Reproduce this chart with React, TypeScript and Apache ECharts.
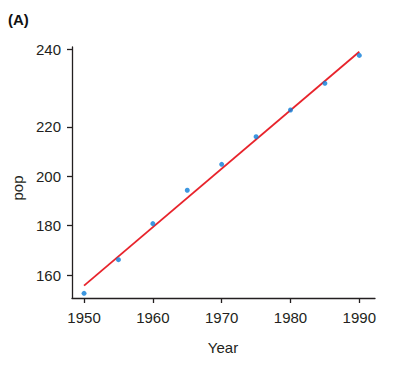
import React, { useEffect, useRef } from "react";
import * as echarts from "echarts";

const years = [1950, 1955, 1960, 1965, 1970, 1975, 1980, 1985, 1990];
const pop = [152.6, 166.2, 180.8, 194.3, 204.8, 216.0, 226.8, 237.6, 248.9];
const fitYears = [1950, 1990];
const fitPop = [155.7, 250.4];
const xTicks = [1950, 1960, 1970, 1980, 1990];
// tick positions on the y axis (the top tick, labelled "240", sits where the source drew it)
const yTickValues = [160, 180, 200, 220, 251.2];
const yTickLabels = ["160", "180", "200", "220", "240"];

const FONT = "'Liberation Sans', Arial, Helvetica, sans-serif";
const TXT = "#231f20";

export default function App() {
  const ref = useRef<HTMLDivElement>(null);
  useEffect(() => {
    if (!ref.current) return;
    const chart = echarts.init(ref.current, undefined, { renderer: "svg" });
    const labelMap: Record<string, string> = {};
    yTickValues.forEach((v, i) => (labelMap[String(v)] = yTickLabels[i]));
    chart.setOption({
      animation: false,
      backgroundColor: "#ffffff",
      grid: { left: 72, right: 39, top: 47, bottom: 69, containLabel: false },
      xAxis: {
        type: "value",
        min: 1948.25,
        max: 1992.28,
        axisLine: { show: true, onZero: false, lineStyle: { color: TXT, width: 1.3 } },
        axisTick: { show: true, length: 5, customValues: xTicks, lineStyle: { color: TXT, width: 1.3 } },
        axisLabel: {
          customValues: xTicks,
          margin: 12,
          color: TXT,
          fontFamily: FONT,
          fontSize: 15,
          formatter: (v: number) => String(Math.round(v)),
        },
        splitLine: { show: false },
      },
      yAxis: {
        type: "value",
        min: 150.7,
        max: 252.3,
        axisLine: { show: true, onZero: false, lineStyle: { color: TXT, width: 1.3 } },
        axisTick: { show: true, length: 5, customValues: yTickValues, lineStyle: { color: TXT, width: 1.3 } },
        axisLabel: {
          customValues: yTickValues,
          margin: 11,
          color: TXT,
          fontFamily: FONT,
          fontSize: 15,
          formatter: (v: number) => labelMap[String(v)] ?? String(v),
        },
        splitLine: { show: false },
      },
      series: [
        {
          type: "line",
          data: fitYears.map((y, i) => [y, fitPop[i]]),
          showSymbol: false,
          symbol: "none",
          lineStyle: { color: "#e8232b", width: 1.8 },
          z: 2,
        },
        {
          type: "scatter",
          data: years.map((y, i) => [y, pop[i]]),
          symbolSize: 5,
          itemStyle: { color: "#0d7dd8" },
          z: 3,
        },
      ],
      graphic: [
        {
          type: "text",
          left: 8,
          top: 12,
          style: { text: "(A)", font: `bold 15px ${FONT}`, fill: "#111" },
        },
        {
          type: "text",
          x: 17,
          y: 188,
          rotation: Math.PI / 2,
          style: {
            text: "pop",
            font: `15px ${FONT}`,
            fill: TXT,
            align: "center",
            verticalAlign: "middle",
          },
        },
        {
          type: "text",
          x: 223,
          y: 347,
          style: {
            text: "Year",
            font: `15px ${FONT}`,
            fill: TXT,
            align: "center",
            verticalAlign: "middle",
          },
        },
      ],
    });
    return () => chart.dispose();
  }, []);
  return <div ref={ref} style={{ width: 414, height: 367, position: "absolute", left: 0, top: 0 }} />;
}
